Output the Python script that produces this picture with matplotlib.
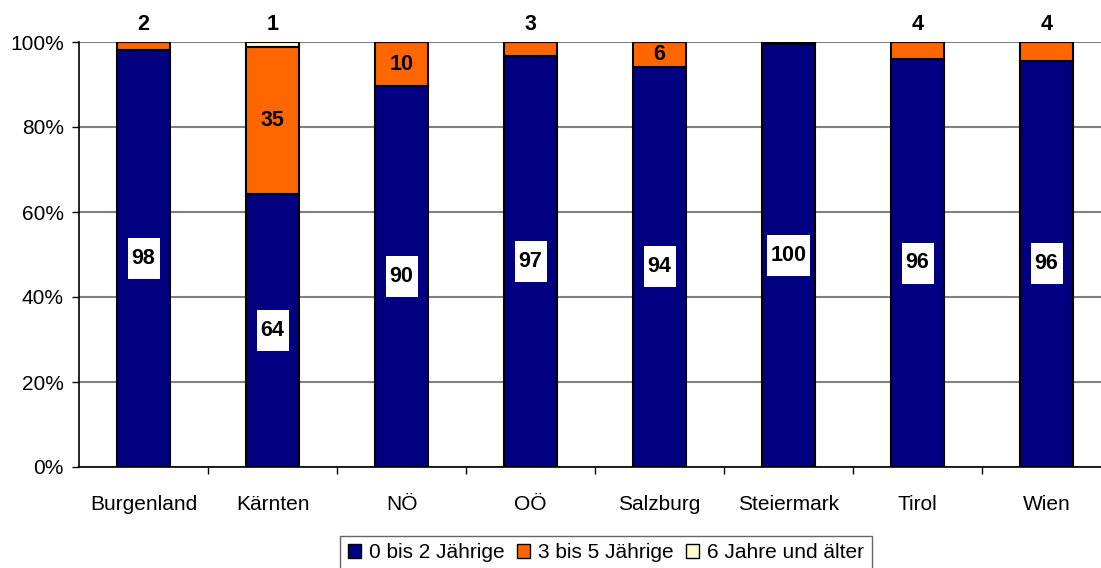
import numpy as np
import matplotlib.pyplot as plt
from matplotlib.patches import Rectangle

plt.rcParams['font.family'] = ['Liberation Sans', 'DejaVu Sans']

regions = ["Burgenland", "Kärnten", "NÖ", "OÖ", "Salzburg", "Steiermark", "Tirol", "Wien"]
age_0_2 = [98.1, 64.3, 89.6, 96.7, 94.2, 99.6, 96.0, 95.6]
age_3_5 = [1.9, 34.6, 10.4, 3.3, 5.8, 0.4, 4.0, 4.4]
age_6_up = [0.0, 1.1, 0.0, 0.0, 0.0, 0.0, 0.0, 0.0]
series_names = ["0 bis 2 Jährige", "3 bis 5 Jährige", "6 Jahre und älter"]
colors = ["#000080", "#FF6600", "#FFFFCC"]

fig = plt.figure(figsize=(11.01, 5.68), dpi=100)
ax = fig.add_axes([79 / 1101, 1 - 467 / 568, 1032 / 1101, 425 / 568])

x = np.arange(len(regions))
width = 0.41
# px -> data units (1 category = 129 px, 100% = 425 px)
px_x = 1 / 129
px_y = 100 / 425

bottom = np.zeros(len(regions))
for vals, name, col in zip([age_0_2, age_3_5, age_6_up], series_names, colors):
    vals = np.array(vals)
    ax.bar(x, vals, width, bottom=bottom, color=col, edgecolor="black",
           linewidth=1.5, label=name, zorder=3)
    for i, v in enumerate(vals):
        lab = str(int(round(v)))
        if lab == "0":
            continue
        yc = bottom[i] + v / 2
        if col == colors[0]:
            bw = (len(lab) * 11 + 10) * px_x
            bh = 41 * px_y
            ax.add_patch(Rectangle((x[i] - bw / 2, yc - bh / 2), bw, bh,
                                   facecolor="white", edgecolor="none", zorder=4))
            ax.text(x[i], yc, lab, ha="center", va="center",
                    fontsize=15.5, fontweight="bold", zorder=5)
        elif v < 5:
            ax.text(x[i], 104.2, lab, ha="center", va="center",
                    fontsize=15.5, fontweight="bold", clip_on=False)
        else:
            ax.text(x[i], yc, lab, ha="center", va="center",
                    fontsize=15.5, fontweight="bold", zorder=5)
    bottom += vals

ax.set_xlim(-0.5, len(regions) - 0.5)
ax.set_ylim(0, 100)
ax.set_yticks(np.arange(0, 101, 20))
ax.set_yticklabels([f"{v}%" for v in range(0, 101, 20)], fontsize=15)
ax.yaxis.grid(True, color="#808080", linewidth=1.5, zorder=0)
ax.set_axisbelow(True)

ax.set_xticks(x)
ax.set_xticklabels(regions, fontsize=15)
ax.set_xticks(np.arange(0.5, len(regions) - 0.5, 1), minor=True)
ax.tick_params(axis="x", which="major", length=0, pad=20)
ax.tick_params(axis="x", which="minor", length=5, width=1, color="black", direction="out")
ax.tick_params(axis="y", length=5, width=1, pad=6)

for s in ["top", "right"]:
    ax.spines[s].set_visible(False)
ax.spines["left"].set_linewidth(1.2)
ax.spines["bottom"].set_linewidth(1.2)

leg = fig.legend(loc="center", bbox_to_anchor=(606 / 1101, 1 - 553 / 568), ncol=3,
                 fontsize=15, frameon=True, fancybox=False, handlelength=0.65,
                 handleheight=0.65, handletextpad=0.4, columnspacing=0.55,
                 borderpad=0.35, edgecolor="#404040")
leg.get_frame().set_linewidth(1.0)
for h in leg.legend_handles:
    h.set_linewidth(1.0)

fig.savefig("out.png", dpi=100)
